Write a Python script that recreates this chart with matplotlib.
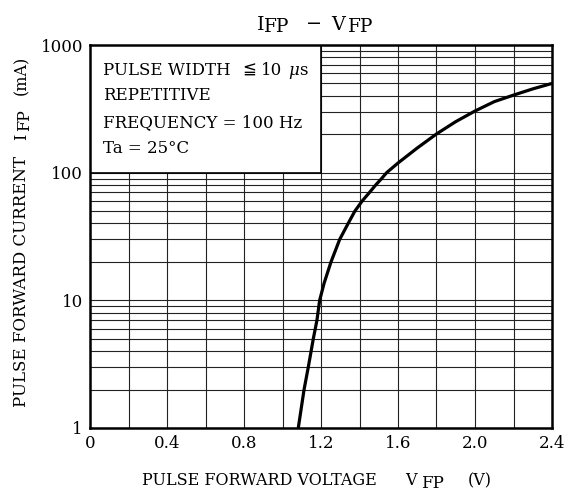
import matplotlib
matplotlib.use("Agg")
import matplotlib.pyplot as plt
from matplotlib.patches import Rectangle
from matplotlib.transforms import IdentityTransform
import numpy as np

plt.rcParams["font.family"] = ["DejaVu Serif", "DejaVu Sans"]

v_fp = [1.082, 1.112, 1.134, 1.160, 1.179, 1.193, 1.216, 1.252, 1.297, 1.341,
        1.376, 1.414, 1.452, 1.484, 1.515, 1.541, 1.600, 1.700, 1.800, 1.900,
        2.000, 2.100, 2.200, 2.300, 2.400]
i_fp = [1.0, 2.0, 3.0, 5.0, 7.0, 10.0, 13.6, 20, 30, 40,
        50, 60, 70, 80, 90, 100, 119, 156, 201, 251,
        304, 360, 405, 453, 500]

x_ticks = [0, 0.4, 0.8, 1.2, 1.6, 2.0, 2.4]
x_tick_labels = ["0", "0.4", "0.8", "1.2", "1.6", "2.0", "2.4"]
y_ticks = [1, 10, 100, 1000]
y_tick_labels = ["1", "10", "100", "1000"]

W, H = 573, 493
fig = plt.figure(figsize=(W / 100, H / 100), dpi=100)
ax = fig.add_axes([90 / W, 1 - 428 / H, 462 / W, 383 / H])
px = IdentityTransform()


def runs(pieces, rotation=0):
    # pieces: (texto, pos a lo largo, base, tamaño, estilo) en pixeles de pantalla
    for s, along, base, size, style in pieces:
        if rotation == 0:
            xy = (along, H - base)
        else:
            xy = (base, H - along)
        fig.text(xy[0], xy[1], s, transform=px, fontsize=size, fontstyle=style,
                 rotation=rotation, rotation_mode="anchor", ha="left",
                 va="baseline", zorder=5)


ax.set_yscale("log")
ax.set_xlim(0, 2.4)
ax.set_ylim(1, 1000)

# rejilla
ax.set_xticks(np.arange(0, 2.41, 0.2), minor=True)
ax.set_xticks(x_ticks)
ax.set_xticklabels(x_tick_labels, fontsize=12)
ax.set_yticks(y_ticks)
ax.set_yticklabels(y_tick_labels, fontsize=12)
ax.yaxis.set_minor_locator(matplotlib.ticker.LogLocator(base=10, subs=np.arange(2, 10)))
ax.yaxis.set_minor_formatter(matplotlib.ticker.NullFormatter())
ax.grid(which="both", color="#222222", linewidth=0.8)
ax.tick_params(which="both", length=0, pad=5)

for s in ax.spines.values():
    s.set_linewidth(1.8)

# recuadro de condiciones
ax.add_patch(Rectangle((0, 100), 1.2, 900, facecolor="white", edgecolor="black",
                       linewidth=1.2, zorder=2))

ax.plot(v_fp, i_fp, color="black", linewidth=2.3, zorder=4,
        solid_joinstyle="round")

fs_box = 12
runs([
    ("PULSE WIDTH", 103, 75, fs_box, "normal"),
    ("≦", 242, 75, fs_box, "normal"),
    ("10", 261, 75, fs_box, "normal"),
    ("μ", 288, 75, fs_box, "italic"),
    ("s", 299, 75, fs_box, "normal"),
    ("REPETITIVE", 103, 100.5, fs_box, "normal"),
    ("FREQUENCY = 100 Hz", 103, 127, fs_box, "normal"),
    ("Ta = 25°C", 103, 153, fs_box, "normal"),
])

# titulo
runs([
    ("I", 257, 29.5, 13.8, "normal"),
    ("FP", 264, 32, 13.3, "normal"),
    ("−", 306, 29.5, 13.8, "normal"),
    ("V", 331, 29.5, 13.8, "normal"),
    ("FP", 348, 32, 13.3, "normal"),
])

# etiquetas de ejes
runs([
    ("PULSE FORWARD VOLTAGE", 142, 485, 11.5, "normal"),
    ("V", 405, 485, 11.5, "normal"),
    ("FP", 421, 488.5, 12, "normal"),
    ("(V)", 468, 485, 11.5, "normal"),
])
runs([
    ("PULSE FORWARD CURRENT", 407, 26.5, 12, "normal"),
    ("I", 140, 26.5, 11.5, "normal"),
    ("FP", 131, 29.5, 11.5, "normal"),
    ("(mA)", 95, 26.5, 11.5, "normal"),
], rotation=90)

fig.savefig("out.png", dpi=100)
